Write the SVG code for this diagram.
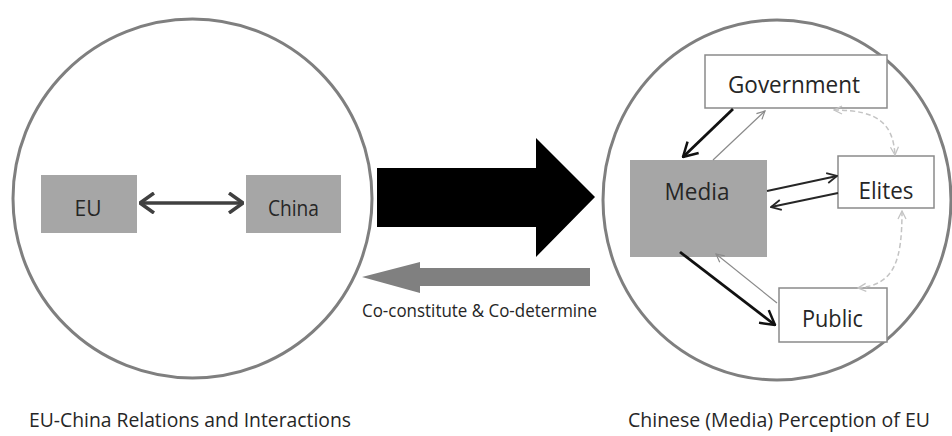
<svg xmlns="http://www.w3.org/2000/svg" width="952" height="436" viewBox="0 0 952 436">
<style>
.ring{fill:none;stroke:#7f7f7f;stroke-width:3}
.gbox{fill:#a6a6a6}
.wbox{fill:#ffffff;stroke:#8a8a8a;stroke-width:1.5}
.lbl{font-family:"Open Sans","Liberation Sans",Arial,sans-serif;fill:#262626;text-anchor:middle}
.cap{font-family:"Open Sans","Liberation Sans",Arial,sans-serif;fill:#262626}
.dash{fill:none;stroke:#c4c4c4;stroke-width:1.5;stroke-dasharray:5 3}
</style>
<defs>
<marker id="mDG" viewBox="0 0 16 22" refX="15" refY="11" markerWidth="16" markerHeight="22" markerUnits="userSpaceOnUse" orient="auto-start-reverse">
<path d="M1,1 L15,11 L1,21" fill="none" stroke="#404040" stroke-width="3.5" stroke-linejoin="miter"/>
</marker>
<marker id="mBK" viewBox="0 0 16 18" refX="15" refY="9" markerWidth="16" markerHeight="18" markerUnits="userSpaceOnUse" orient="auto">
<path d="M1,1 L15,9 L1,17" fill="none" stroke="#111111" stroke-width="2.5"/>
</marker>
<marker id="mTG" viewBox="0 0 10 10" refX="9" refY="5" markerWidth="10" markerHeight="10" markerUnits="userSpaceOnUse" orient="auto">
<path d="M1,1 L9,5 L1,9" fill="none" stroke="#8a8a8a" stroke-width="1.2"/>
</marker>
<marker id="mMD" viewBox="0 0 12 12" refX="11" refY="6" markerWidth="12" markerHeight="12" markerUnits="userSpaceOnUse" orient="auto">
<path d="M1,1 L11,6 L1,11" fill="none" stroke="#262626" stroke-width="1.8"/>
</marker>
<marker id="mLG" viewBox="0 0 10 10" refX="9" refY="5" markerWidth="10" markerHeight="10" markerUnits="userSpaceOnUse" orient="auto-start-reverse">
<path d="M1,1 L9,5 L1,9" fill="none" stroke="#c4c4c4" stroke-width="1.3"/>
</marker>
</defs>
<rect width="952" height="436" fill="#ffffff"/>

<g id="left-circle">
<circle class="ring" cx="192.5" cy="198.5" r="179.5"/>
</g>
<g id="right-circle">
<ellipse class="ring" cx="777" cy="200" rx="174" ry="180"/>
</g>

<g id="node-eu">
<rect class="gbox" x="41" y="175" width="96" height="58"/>
<text class="lbl" x="88" y="216" font-size="22" textLength="27" lengthAdjust="spacingAndGlyphs">EU</text>
</g>
<g id="node-china">
<rect class="gbox" x="246" y="175" width="95" height="58"/>
<text class="lbl" x="293.5" y="216" font-size="22" textLength="51" lengthAdjust="spacingAndGlyphs">China</text>
</g>

<g id="node-media">
<rect class="gbox" x="630" y="160" width="137" height="97"/>
<text class="lbl" x="697" y="200" font-size="23" textLength="65" lengthAdjust="spacingAndGlyphs">Media</text>
</g>
<g id="node-government">
<rect class="wbox" x="705" y="55" width="182" height="53"/>
<text class="lbl" x="794" y="93" font-size="23" textLength="132" lengthAdjust="spacingAndGlyphs">Government</text>
</g>
<g id="node-elites">
<rect class="wbox" x="838" y="156" width="96" height="52"/>
<text class="lbl" x="886" y="199" font-size="23" textLength="55" lengthAdjust="spacingAndGlyphs">Elites</text>
</g>
<g id="node-public">
<rect class="wbox" x="779" y="288" width="108" height="54"/>
<text class="lbl" x="832.5" y="327" font-size="23" textLength="61" lengthAdjust="spacingAndGlyphs">Public</text>
</g>

<g id="connectors">
<line x1="140" y1="203" x2="243" y2="203" stroke="#404040" stroke-width="3.5" marker-start="url(#mDG)" marker-end="url(#mDG)"/>
<polygon id="big-arrow" points="377,168 536,168 536,138 595,197 536,257 536,227 377,227" fill="#000000"/>
<polygon id="back-arrow" points="590,268 420,268 420,262 362,277 420,293 420,286 590,286" fill="#808080"/>
<line x1="733" y1="109" x2="683" y2="157" stroke="#111111" stroke-width="2.8" marker-end="url(#mBK)"/>
<line x1="713" y1="160" x2="765" y2="111" stroke="#8a8a8a" stroke-width="1.2" marker-end="url(#mTG)"/>
<line x1="767" y1="191" x2="837" y2="176" stroke="#262626" stroke-width="1.8" marker-end="url(#mMD)"/>
<line x1="838" y1="193" x2="771" y2="207" stroke="#262626" stroke-width="2" marker-end="url(#mMD)"/>
<line x1="680" y1="252" x2="775" y2="325" stroke="#111111" stroke-width="2.8" marker-end="url(#mBK)"/>
<line x1="777" y1="303" x2="716" y2="254" stroke="#8a8a8a" stroke-width="1.2" marker-end="url(#mTG)"/>
<path class="dash" d="M834,110 C880,110 893,125 895,155" marker-start="url(#mLG)" marker-end="url(#mLG)"/>
<path class="dash" d="M902,211 C902,260 895,285 858,288" marker-start="url(#mLG)" marker-end="url(#mLG)"/>
</g>

<g id="labels">
<text class="cap" x="362" y="317" font-size="18" textLength="235" lengthAdjust="spacingAndGlyphs">Co-constitute &amp; Co-determine</text>
<text class="cap" x="29" y="427" font-size="20" textLength="322" lengthAdjust="spacingAndGlyphs">EU-China Relations and Interactions</text>
<text class="cap" x="628" y="427" font-size="20" textLength="302" lengthAdjust="spacingAndGlyphs">Chinese (Media) Perception of EU</text>
</g>
</svg>
